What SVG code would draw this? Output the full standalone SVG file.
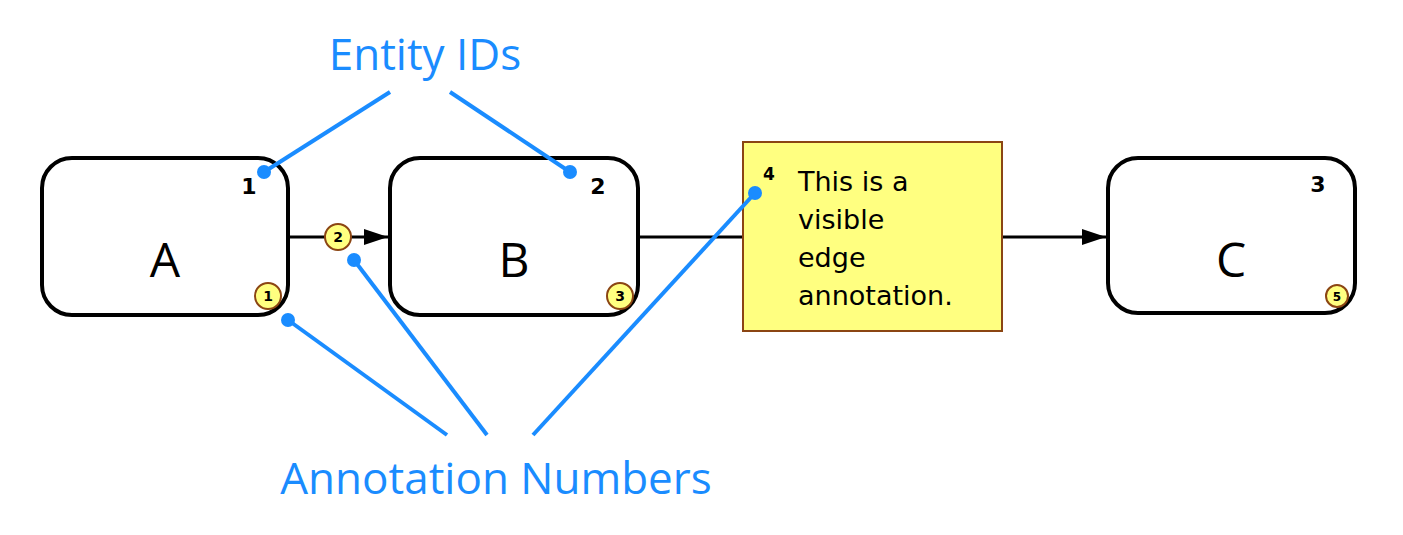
<svg xmlns="http://www.w3.org/2000/svg" width="1403" height="535" viewBox="0 0 1403 535">
<style>
.node{fill:#fff;stroke:#000;stroke-width:4}
.lbl{font-family:"Open Sans","DejaVu Sans",sans-serif;font-size:48px;text-anchor:middle}
.id{font-family:"DejaVu Sans",sans-serif;font-weight:bold;font-size:22px;text-anchor:middle}
.badge{fill:#ffff80;stroke:#8b4513;stroke-width:2}
.bt{font-family:"DejaVu Sans",sans-serif;font-weight:bold;font-size:14px;text-anchor:middle}
.blue{stroke:#1a8cff;stroke-width:4;fill:none}
.dot{fill:#1a8cff}
.cal{font-family:"Open Sans","DejaVu Sans",sans-serif;font-size:44px;fill:#1a8cff;text-anchor:middle}
.note{font-family:"DejaVu Sans",sans-serif;font-size:27px}
.edge{stroke:#000;stroke-width:3;fill:none}
</style>
<defs><marker id="arr" markerWidth="10" markerHeight="8" refX="10" refY="4" orient="auto" markerUnits="userSpaceOnUse" viewBox="0 0 10 8"><path d="M0,0L10,4L0,8z"/></marker>
<marker id="arr2" viewBox="0 0 24 16" markerWidth="24" markerHeight="16" refX="24" refY="8" orient="auto" markerUnits="userSpaceOnUse"><path d="M0,0L24,8L0,16z"/></marker></defs>
<g id="connectors">
<line class="edge" x1="288" y1="237" x2="388" y2="237" marker-end="url(#arr2)"/>
<line class="edge" x1="638" y1="237" x2="743" y2="237"/>
<line class="edge" x1="1002" y1="237" x2="1106" y2="237" marker-end="url(#arr2)"/>
</g>
<g id="A"><rect class="node" x="42" y="158" width="246" height="157" rx="30"/><text class="lbl" x="165" y="277">A</text><text class="id" x="249" y="194">1</text></g>
<g id="B"><rect class="node" x="390" y="158" width="248" height="157" rx="30"/><text class="lbl" x="514" y="277">B</text><text class="id" x="598" y="194">2</text></g>
<g id="C"><rect class="node" x="1108" y="158" width="247" height="155" rx="30"/><text class="lbl" x="1231" y="277">C</text><text class="id" x="1318" y="192">3</text></g>
<g id="note"><rect x="743" y="142" width="259" height="189" fill="#ffff80" stroke="#8b4513" stroke-width="2"/>
<text class="id" x="769" y="180" style="font-size:17px">4</text>
<text class="note" x="798" y="191">This is a</text><text class="note" x="798" y="229">visible</text><text class="note" x="798" y="267">edge</text><text class="note" x="798" y="305">annotation.</text></g>
<g id="badges">
<circle class="badge" cx="268" cy="296" r="13"/><text class="bt" x="268" y="301">1</text>
<circle class="badge" cx="338" cy="237" r="13"/><text class="bt" x="338" y="242">2</text>
<circle class="badge" cx="620" cy="296" r="13"/><text class="bt" x="620" y="301">3</text>
<circle class="badge" cx="1337" cy="296" r="11"/><text class="bt" x="1337" y="301" style="font-size:12px">5</text>
</g>
<g id="callouts">
<text class="cal" x="425" y="70">Entity IDs</text>
<text class="cal" x="496" y="494">Annotation Numbers</text>
<line class="blue" x1="390" y1="92" x2="264" y2="172"/><circle class="dot" cx="264" cy="172" r="7"/>
<line class="blue" x1="450" y1="92" x2="570" y2="172"/><circle class="dot" cx="570" cy="172" r="7"/>
<line class="blue" x1="447" y1="435" x2="288" y2="320"/><circle class="dot" cx="288" cy="320" r="7"/>
<line class="blue" x1="487" y1="435" x2="354" y2="260"/><circle class="dot" cx="354" cy="260" r="7"/>
<line class="blue" x1="533" y1="435" x2="755" y2="193"/><circle class="dot" cx="755" cy="193" r="7"/>
</g>
</svg>
